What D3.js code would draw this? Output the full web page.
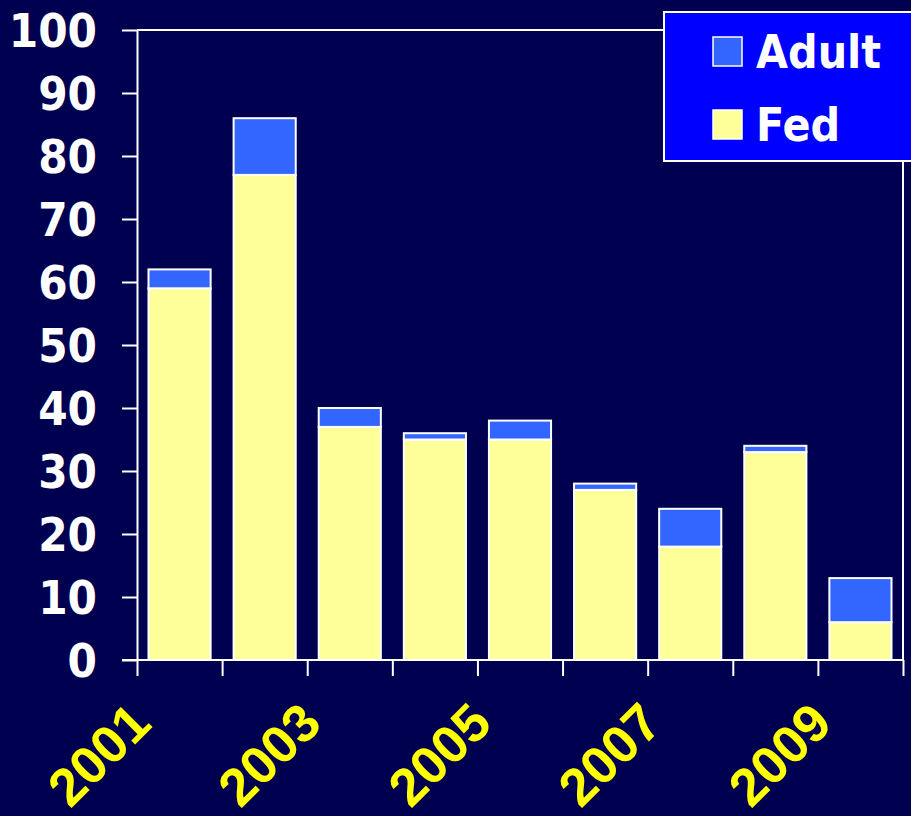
<!DOCTYPE html>
<html>
<head>
<meta charset="utf-8">
<script src="https://cdn.jsdelivr.net/npm/d3@7"></script>
<style>
  body { margin: 0; background: #000050; }
  svg { display: block; }
</style>
</head>
<body>
<div class="chart"></div>
<script>
// values
var years = ["2001", "2002", "2003", "2004", "2005", "2006", "2007", "2008", "2009"];
var fed = [59, 77, 37, 35, 35, 27, 18, 33, 6];
var adult = [3, 9, 3, 1, 3, 1, 6, 1, 7];
var yTicks = [0, 10, 20, 30, 40, 50, 60, 70, 80, 90, 100];
var shownYears = ["2001", "2003", "2005", "2007", "2009"];
var seriesNames = ["Fed", "Adult"];
var legendNames = ["Adult", "Fed"];

const width = 911, height = 816;
const margin = ({ top: 30, right: 8, bottom: 156, left: 137 });
const plotW = width - margin.left - margin.right;
const plotH = height - margin.top - margin.bottom;

const colors = { Fed: "#ffff99", Adult: "#3366ff" };
const fontLabel = "'DejaVu Sans Condensed', 'DejaVu Sans', sans-serif";

var svg = d3.select(".chart").append("svg")
    .attr("width", width)
    .attr("height", height);

svg.append("rect").attr("width", width).attr("height", height).attr("fill", "#000050");

var g = svg.append("g").attr("transform", `translate(${margin.left}, ${margin.top})`);

var x = d3.scaleBand()
    .domain(years)
    .range([0, plotW])
    .paddingInner(0.27)
    .paddingOuter(0.135);

var xEdge = d3.scaleLinear().domain([0, years.length]).range([0, plotW]);

var y = d3.scaleLinear().domain([0, 100]).range([plotH, 0]);

var rows = years.map((d, i) => ({ year: d, Fed: fed[i], Adult: adult[i] }));
var stacked = d3.stack().keys(seriesNames)(rows);

// frame: top and right
g.append("line").attr("x1", 0).attr("x2", plotW).attr("y1", 0).attr("y2", 0)
    .attr("stroke", "white").attr("stroke-width", 2);
g.append("line").attr("x1", plotW).attr("x2", plotW).attr("y1", 0).attr("y2", plotH)
    .attr("stroke", "white").attr("stroke-width", 2);

// bars
g.selectAll("g.series")
    .data(stacked)
    .join("g")
    .attr("class", "series")
    .attr("fill", d => colors[d.key])
    .selectAll("rect")
    .data(d => d)
    .join("rect")
    .attr("x", d => x(d.data.year))
    .attr("y", d => y(d[1]))
    .attr("width", x.bandwidth())
    .attr("height", d => y(d[0]) - y(d[1]))
    .attr("stroke", "white")
    .attr("stroke-width", 2);

// y axis
var yAxis = g.append("g")
    .call(d3.axisLeft(y).tickValues(yTicks).tickSize(15).tickSizeOuter(0).tickPadding(25));
yAxis.selectAll("line, path").attr("stroke", "white").attr("stroke-width", 2);
yAxis.selectAll("text")
    .attr("fill", "white")
    .attr("font-family", fontLabel)
    .attr("font-weight", "bold")
    .attr("font-size", 47)
    .attr("dy", "0.36em");

// x axis: ticks at band edges
var xAxis = g.append("g")
    .attr("transform", `translate(0, ${plotH})`)
    .call(d3.axisBottom(xEdge).tickValues(d3.range(years.length + 1)).tickSize(16).tickSizeOuter(0).tickFormat(""));
xAxis.selectAll("line, path").attr("stroke", "white").attr("stroke-width", 2);
xAxis.select("path").attr("d", `M-15,0H${plotW}`);

// rotated year labels
g.selectAll("text.year")
    .data(shownYears)
    .join("text")
    .attr("class", "year")
    .attr("text-anchor", "end")
    .attr("transform", d => `translate(${x(d) + x.bandwidth() / 2 - 26}, ${plotH + 66}) rotate(-45)`)
    .attr("fill", "#ffff00")
    .attr("font-family", "'Liberation Sans', Arial, sans-serif")
    .attr("font-weight", "bold")
    .attr("font-size", 53)
    .text(d => d);

// legend
var legend = svg.append("g").attr("transform", "translate(664, 12)");
legend.append("rect")
    .attr("width", 260).attr("height", 149)
    .attr("fill", "#0000ff").attr("stroke", "white").attr("stroke-width", 2);

var items = legend.selectAll("g.item")
    .data(legendNames)
    .join("g")
    .attr("class", "item")
    .attr("transform", (d, i) => `translate(49, ${25 + i * 73})`);

items.append("rect")
    .attr("width", 29).attr("height", 29)
    .attr("fill", d => colors[d])
    .attr("stroke", "white").attr("stroke-width", 1.5);

items.append("text")
    .attr("x", 43)
    .attr("y", 31)
    .attr("fill", "white")
    .attr("font-family", fontLabel)
    .attr("font-weight", "bold")
    .attr("font-size", 46)
    .text(d => d);
</script>
</body>
</html>
